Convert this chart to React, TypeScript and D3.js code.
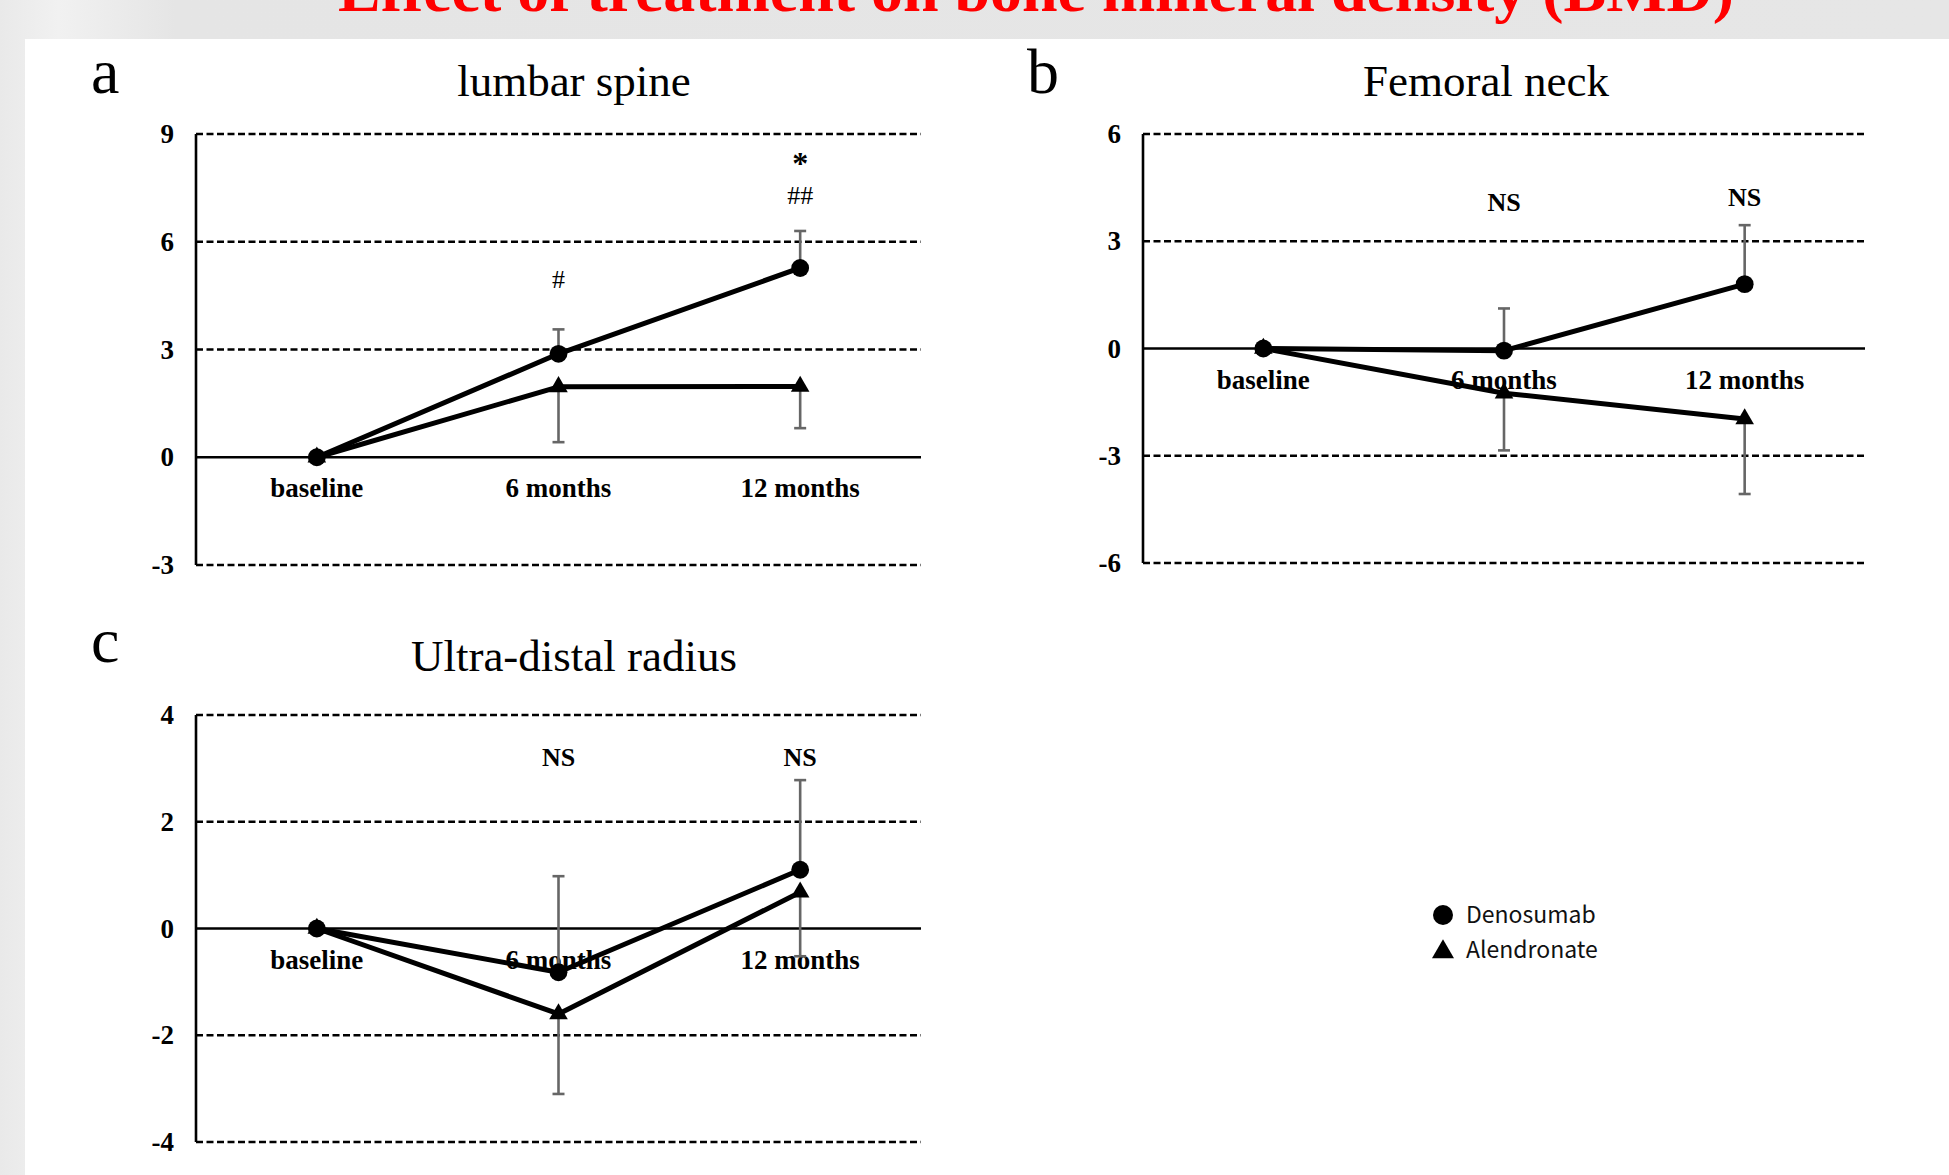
import React, { useEffect, useRef } from 'react';
import * as d3 from 'd3';

const categories = ['baseline', '6 months', '12 months'];
const seriesNames = ['Denosumab', 'Alendronate'];

// a: lumbar spine
const lumbarTicks = [9, 6, 3, 0, -3];
const lumbarDenosumab = [0, 2.88, 5.27];
const lumbarDenosumabSD = [0, 0.68, 1.03];
const lumbarAlendronate = [0, 1.96, 1.97];
const lumbarAlendronateSD = [0, 1.54, 1.16];
const lumbarNotes = [
  { cat: '6 months', value: 4.7, text: '#', bold: false },
  { cat: '12 months', value: 7.05, text: '##', bold: false },
  { cat: '12 months', value: 7.9, text: '*', bold: true },
];

// b: femoral neck
const femoralTicks = [6, 3, 0, -3, -6];
const femoralDenosumab = [0, -0.06, 1.8];
const femoralDenosumabSD = [0, 1.18, 1.65];
const femoralAlendronate = [0, -1.25, -1.97];
const femoralAlendronateSD = [0, 1.6, 2.1];
const femoralNotes = [
  { cat: '6 months', value: 3.86, text: 'NS', bold: true },
  { cat: '12 months', value: 4.0, text: 'NS', bold: true },
];

// c: ultra-distal radius
const radiusTicks = [4, 2, 0, -2, -4];
const radiusDenosumab = [0, -0.82, 1.1];
const radiusDenosumabSD = [0, 1.8, 1.68];
const radiusAlendronate = [0, -1.6, 0.68];
const radiusAlendronateSD = [0, 1.5, 1.2];
const radiusNotes = [
  { cat: '6 months', value: 3.05, text: 'NS', bold: true },
  { cat: '12 months', value: 3.05, text: 'NS', bold: true },
];

const SERIF = '"Liberation Serif", "Times New Roman", serif';

export default function App() {
  const ref = useRef<SVGSVGElement | null>(null);

  useEffect(() => {
    const width = 1949;
    const height = 1175;
    const svg = d3.select(ref.current);
    svg.selectAll('*').remove();

    // background
    const defs = svg.append('defs');
    const grad = defs.append('linearGradient').attr('id', 'bg').attr('x1', 0).attr('x2', 1).attr('y1', 0).attr('y2', 0);
    grad.append('stop').attr('offset', '0%').attr('stop-color', '#e9e9e9');
    grad.append('stop').attr('offset', '3%').attr('stop-color', '#f1f1f1');
    grad.append('stop').attr('offset', '9%').attr('stop-color', '#e5e5e5');
    grad.append('stop').attr('offset', '100%').attr('stop-color', '#e6e6e6');
    svg.append('rect').attr('width', width).attr('height', height).attr('fill', 'url(#bg)');
    svg.append('rect').attr('x', 25).attr('y', 39).attr('width', width - 25).attr('height', height - 39).attr('fill', '#fff');

    // page title, cut off at the top as in the slide
    svg.append('text')
      .attr('x', 338).attr('y', 11)
      .attr('textLength', 1396).attr('lengthAdjust', 'spacingAndGlyphs')
      .style('font-family', SERIF).style('font-weight', 'bold').style('font-size', '62px')
      .attr('fill', '#f00')
      .text('Effect of treatment on bone mineral density (BMD)');

    const panels = [
      {
        letter: 'a', title: 'lumbar spine', titleX: 574, titleY: 96, letterX: 91, letterY: 93,
        left: 196, right: 921, top: 134, bottom: 565,
        ticks: lumbarTicks, den: lumbarDenosumab, denSD: lumbarDenosumabSD,
        alen: lumbarAlendronate, alenSD: lumbarAlendronateSD, notes: lumbarNotes,
      },
      {
        letter: 'b', title: 'Femoral neck', titleX: 1486, titleY: 96, letterX: 1027, letterY: 93,
        left: 1143, right: 1865, top: 134, bottom: 563,
        ticks: femoralTicks, den: femoralDenosumab, denSD: femoralDenosumabSD,
        alen: femoralAlendronate, alenSD: femoralAlendronateSD, notes: femoralNotes,
      },
      {
        letter: 'c', title: 'Ultra-distal radius', titleX: 574, titleY: 671, letterX: 91, letterY: 662,
        left: 196, right: 921, top: 715, bottom: 1142,
        ticks: radiusTicks, den: radiusDenosumab, denSD: radiusDenosumabSD,
        alen: radiusAlendronate, alenSD: radiusAlendronateSD, notes: radiusNotes,
      },
    ];

    const circle = d3.symbol(d3.symbolCircle, 250);
    const triangle = d3.symbol(d3.symbolTriangle, 150);

    panels.forEach(p => {
      const x = d3.scalePoint<string>().domain(categories).range([p.left, p.right]).padding(0.5);
      const y = d3.scaleLinear()
        .domain([d3.min(p.ticks) as number, d3.max(p.ticks) as number])
        .range([p.bottom, p.top]);
      const g = svg.append('g');

      g.append('text')
        .attr('x', p.letterX).attr('y', p.letterY)
        .style('font-family', SERIF).style('font-size', '64px')
        .text(p.letter);

      g.append('text')
        .attr('x', p.titleX).attr('y', p.titleY).attr('text-anchor', 'middle')
        .style('font-family', SERIF).style('font-size', '45px')
        .text(p.title);

      // grid lines, dashed except at zero
      p.ticks.forEach(t => {
        g.append('line')
          .attr('x1', p.left).attr('x2', p.right)
          .attr('y1', y(t)).attr('y2', y(t))
          .attr('stroke', '#000')
          .attr('stroke-width', t === 0 ? 2.4 : 2.6)
          .attr('stroke-dasharray', t === 0 ? null : '7,3.5');
        g.append('text')
          .attr('x', p.left - 22).attr('y', y(t)).attr('dy', '0.34em')
          .attr('text-anchor', 'end')
          .style('font-family', SERIF).style('font-weight', 'bold').style('font-size', '27px')
          .text(t);
      });

      g.append('line')
        .attr('x1', p.left).attr('x2', p.left)
        .attr('y1', y(d3.max(p.ticks) as number)).attr('y2', y(d3.min(p.ticks) as number))
        .attr('stroke', '#000').attr('stroke-width', 2.6);

      // category labels
      categories.forEach(c => {
        g.append('text')
          .attr('x', x(c) as number).attr('y', y(0) + 40)
          .attr('text-anchor', 'middle')
          .style('font-family', SERIF).style('font-weight', 'bold').style('font-size', '27px')
          .text(c);
      });

      // error bars: Denosumab up, Alendronate down
      const bars = [
        { vals: p.den, sd: p.denSD, dir: 1 },
        { vals: p.alen, sd: p.alenSD, dir: -1 },
      ];
      bars.forEach(b => {
        b.vals.forEach((v, i) => {
          if (!b.sd[i]) return;
          const cx = x(categories[i]) as number;
          const end = y(v + b.dir * b.sd[i]);
          g.append('line').attr('x1', cx).attr('x2', cx).attr('y1', y(v)).attr('y2', end)
            .attr('stroke', '#666').attr('stroke-width', 2.6);
          g.append('line').attr('x1', cx - 6).attr('x2', cx + 6).attr('y1', end).attr('y2', end)
            .attr('stroke', '#666').attr('stroke-width', 2.6);
        });
      });

      const line = d3.line<number>()
        .x((d, i) => x(categories[i]) as number)
        .y(d => y(d));

      [p.alen, p.den].forEach(vals => {
        g.append('path').attr('d', line(vals) as string)
          .attr('fill', 'none').attr('stroke', '#000').attr('stroke-width', 5)
          .attr('stroke-linejoin', 'round');
      });

      p.alen.forEach((v, i) => {
        g.append('path').attr('d', triangle() as string)
          .attr('transform', `translate(${x(categories[i])},${y(v)})`)
          .attr('fill', '#000');
      });
      p.den.forEach((v, i) => {
        g.append('path').attr('d', circle() as string)
          .attr('transform', `translate(${x(categories[i])},${y(v)})`)
          .attr('fill', '#000');
      });

      p.notes.forEach(n => {
        g.append('text')
          .attr('x', x(n.cat) as number).attr('y', y(n.value))
          .attr('text-anchor', 'middle')
          .style('font-family', SERIF)
          .style('font-weight', n.bold ? 'bold' : 'normal')
          .style('font-size', n.text === '*' ? '32px' : '26px')
          .text(n.text);
      });
    });

    // legend
    const legend = svg.append('g').attr('transform', 'translate(1443,915)');
    seriesNames.forEach((name, i) => {
      const sym = i === 0 ? d3.symbol(d3.symbolCircle, 314) : d3.symbol(d3.symbolTriangle, 210);
      legend.append('path').attr('d', sym() as string)
        .attr('transform', `translate(0,${i * 35 + (i === 1 ? 2 : 0)})`)
        .attr('fill', '#000');
      legend.append('text')
        .attr('x', 23).attr('y', i * 35 + 8)
        .style('font-family', '"Noto Sans CJK JP", "Noto Sans", sans-serif')
        .style('font-size', '23px')
        .attr('fill', '#111')
        .text(name);
    });
  }, []);

  return (
    <svg
      ref={ref}
      width={1949}
      height={1175}
      style={{ position: 'absolute', left: 0, top: 0, display: 'block' }}
    />
  );
}
